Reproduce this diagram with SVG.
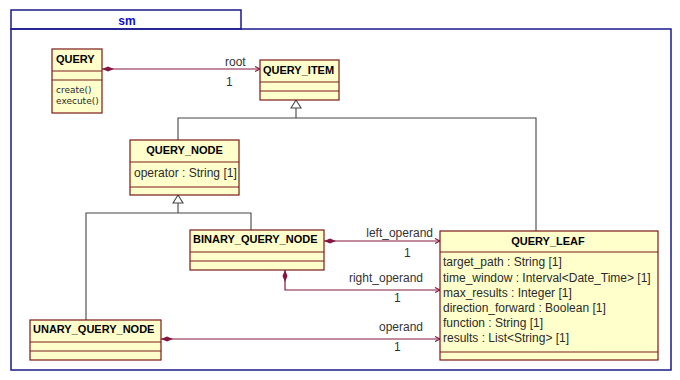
<svg xmlns="http://www.w3.org/2000/svg" width="680" height="380" viewBox="0 0 680 380">
  <style>
    .pkg { fill: none; stroke: #1a1a8c; stroke-width: 1.5; }
    .pkgname { font: bold 12px "Liberation Sans", Arial, sans-serif; fill: #1010c8; text-anchor: middle; }
    .box { fill: #ffffcc; stroke: #7a1a1a; stroke-width: 1.2; }
    .div { stroke: #7a1a1a; stroke-width: 1.2; }
    .title { font: bold 11px "Liberation Sans", Arial, sans-serif; fill: #000; }
    .attr { font: 12px "Liberation Sans", Arial, sans-serif; fill: #2a2a2a; }
    .op { font: 9px "DejaVu Sans", sans-serif; fill: #2a2a2a; }
    .lbl { font: 12px "Liberation Sans", Arial, sans-serif; fill: #333; }
    .end { text-anchor: end; }
    .assoc { fill: none; stroke: #85163f; stroke-width: 1.2; }
    .gen { fill: none; stroke: #444; stroke-width: 1.1; }
  </style>
  <defs>
    <marker id="diamond" markerUnits="userSpaceOnUse" markerWidth="14" markerHeight="8" refX="0" refY="3" orient="auto" viewBox="0 0 14 6">
      <path d="M0,3 L6,0.5 L12,3 L6,5.5 Z" fill="#85163f"/>
    </marker>
    <marker id="open" markerUnits="userSpaceOnUse" markerWidth="8" markerHeight="8" refX="6" refY="4" orient="auto" viewBox="0 0 8 8">
      <path d="M1,1.5 L6,4 L1,6.5" fill="none" stroke="#85163f" stroke-width="1.1"/>
    </marker>
    <marker id="tri" markerUnits="userSpaceOnUse" markerWidth="12" markerHeight="12" refX="10" refY="6" orient="auto" viewBox="0 0 12 12">
      <path d="M2,1 L10,6 L2,11 Z" fill="#fff" stroke="#444" stroke-width="1.1"/>
    </marker>
  </defs>

  <!-- package frame -->
  <g id="package_sm">
    <rect class="pkg" x="11" y="10" width="230" height="19"/>
    <rect class="pkg" x="11" y="29" width="660" height="341"/>
    <text class="pkgname" x="127" y="25">sm</text>
  </g>

  <!-- connectors -->
  <g id="connectors">
    <!-- generalization to QUERY_ITEM -->
    <path class="gen" d="M178,140 V118 H536 V231"/>
    <path class="gen" d="M296,118 V100" marker-end="url(#tri)"/>
    <!-- generalization to QUERY_NODE -->
    <path class="gen" d="M86,320 V213 H251 V230"/>
    <path class="gen" d="M178,213 V195" marker-end="url(#tri)"/>
    <!-- associations -->
    <path class="assoc" d="M102,69 H260" marker-start="url(#diamond)" marker-end="url(#open)"/>
    <path class="assoc" d="M324,241 H440" marker-start="url(#diamond)" marker-end="url(#open)"/>
    <path class="assoc" d="M285,270 V290 H440" marker-start="url(#diamond)" marker-end="url(#open)"/>
    <path class="assoc" d="M161,339 H440" marker-start="url(#diamond)" marker-end="url(#open)"/>
    <text class="lbl" x="225" y="66">root</text>
    <text class="lbl" x="226" y="86">1</text>
    <text class="lbl end" x="433" y="237">left_operand</text>
    <text class="lbl" x="404" y="257">1</text>
    <text class="lbl end" x="423" y="282">right_operand</text>
    <text class="lbl" x="394" y="302">1</text>
    <text class="lbl end" x="423" y="331">operand</text>
    <text class="lbl" x="394" y="351">1</text>
  </g>

  <g id="QUERY">
    <rect class="box" x="52" y="49" width="50" height="64"/>
    <line class="div" x1="52" y1="71" x2="102" y2="71"/>
    <line class="div" x1="52" y1="80" x2="102" y2="80"/>
    <text class="title" x="56" y="63">QUERY</text>
    <text class="op" x="56" y="93">create()</text>
    <text class="op" x="56" y="104">execute()</text>
  </g>

  <g id="QUERY_ITEM">
    <rect class="box" x="260" y="60" width="79" height="40"/>
    <line class="div" x1="260" y1="82" x2="339" y2="82"/>
    <line class="div" x1="260" y1="91" x2="339" y2="91"/>
    <text class="title" x="263" y="74">QUERY_ITEM</text>
  </g>

  <g id="QUERY_NODE">
    <rect class="box" x="130" y="140" width="109" height="55"/>
    <line class="div" x1="130" y1="162" x2="239" y2="162"/>
    <line class="div" x1="130" y1="187" x2="239" y2="187"/>
    <text class="title" x="184.5" y="154" text-anchor="middle">QUERY_NODE</text>
    <text class="attr" x="134" y="177">operator : String [1]</text>
  </g>

  <g id="BINARY_QUERY_NODE">
    <rect class="box" x="190" y="230" width="134" height="40"/>
    <line class="div" x1="190" y1="252" x2="324" y2="252"/>
    <line class="div" x1="190" y1="261" x2="324" y2="261"/>
    <text class="title" x="193" y="243">BINARY_QUERY_NODE</text>
  </g>

  <g id="UNARY_QUERY_NODE">
    <rect class="box" x="30" y="320" width="131" height="40"/>
    <line class="div" x1="30" y1="342" x2="161" y2="342"/>
    <line class="div" x1="30" y1="351" x2="161" y2="351"/>
    <text class="title" x="33" y="333">UNARY_QUERY_NODE</text>
  </g>

  <g id="QUERY_LEAF">
    <rect class="box" x="440" y="231" width="218" height="129"/>
    <line class="div" x1="440" y1="252" x2="658" y2="252"/>
    <line class="div" x1="440" y1="352" x2="658" y2="352"/>
    <text class="title" x="548" y="245" text-anchor="middle">QUERY_LEAF</text>
    <text class="attr" x="443" y="266">target_path : String [1]</text>
    <text class="attr" x="443" y="282">time_window : Interval&lt;Date_Time&gt; [1]</text>
    <text class="attr" x="443" y="297">max_results : Integer [1]</text>
    <text class="attr" x="443" y="312">direction_forward : Boolean [1]</text>
    <text class="attr" x="443" y="327">function : String [1]</text>
    <text class="attr" x="443" y="342">results : List&lt;String&gt; [1]</text>
  </g>
</svg>
